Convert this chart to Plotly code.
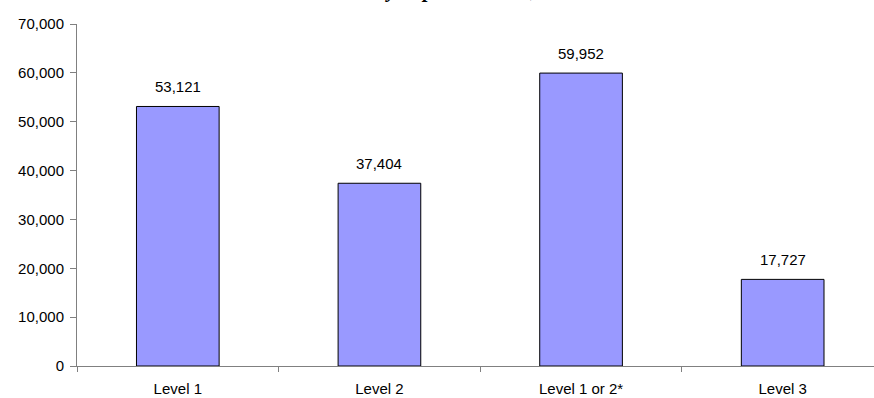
import plotly.graph_objects as go

# Category labels and counts for each level
levels = ["Level 1", "Level 2", "Level 1 or 2*", "Level 3"]
counts = [53121, 37404, 59952, 17727]

title_text = "<b><i>Total Students Enrolled by Top Skill Level, 2005-2006</i></b>"

fig = go.Figure()
fig.add_trace(go.Bar(
    x=levels,
    y=counts,
    width=0.41,
    marker=dict(color="#9999FF", line=dict(color="#000000", width=1)),
    hoverinfo="skip",
))

# Value labels above each bar
for lv, c in zip(levels, counts):
    fig.add_annotation(
        x=lv, y=c, text=f"{c:,}", showarrow=False,
        yanchor="bottom", yshift=9,
        font=dict(family="Liberation Sans, Arial", size=15, color="#000000"),
    )

# Chart title, sitting above the top edge of the figure
fig.add_annotation(
    xref="paper", yref="paper", x=0.405, y=1.0, yshift=20,
    text=title_text, showarrow=False, yanchor="bottom",
    font=dict(family="Liberation Serif, Times New Roman", size=21, color="#000000"),
)

fig.update_layout(
    width=874, height=398,
    margin=dict(l=77, r=0, t=24, b=32),
    paper_bgcolor="white", plot_bgcolor="white",
    showlegend=False,
    font=dict(family="Liberation Sans, Arial", size=15, color="#000000"),
)
fig.update_xaxes(
    type="category", range=[-0.5, 3.453],
    showline=True, linecolor="#808080", linewidth=1,
    ticks="outside", tickson="boundaries", ticklen=5, tickcolor="#808080",
    ticklabelstandoff=9,
    showgrid=False, zeroline=False,
    tickfont=dict(size=15),
)
fig.update_yaxes(
    range=[0, 70000], dtick=10000, tickformat=",",
    showline=True, linecolor="#808080", linewidth=1,
    ticks="outside", ticklen=6, tickcolor="#808080",
    ticklabelstandoff=3,
    showgrid=False, zeroline=False,
    tickfont=dict(size=15),
)

fig.write_html("out.html")
